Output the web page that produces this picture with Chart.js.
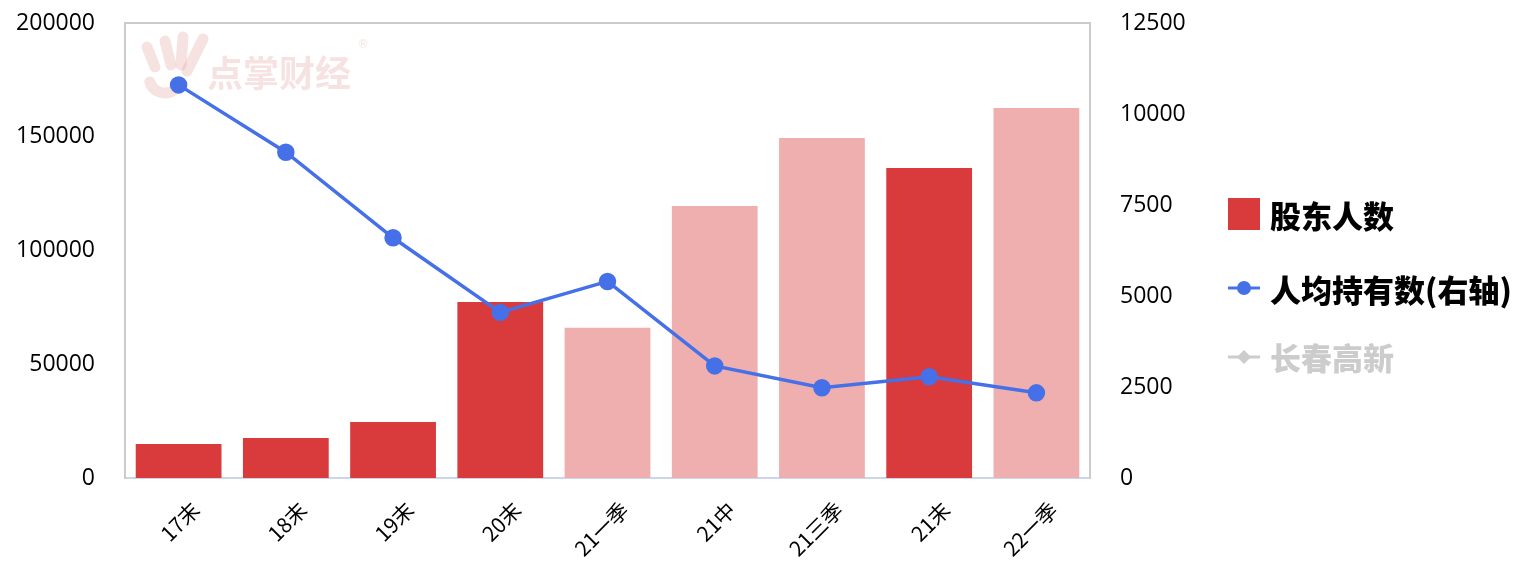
<!DOCTYPE html>
<html>
<head>
<meta charset="utf-8">
<script src="https://cdn.jsdelivr.net/npm/chart.js@4/dist/chart.umd.min.js"></script>
<style>
  html, body { margin: 0; padding: 0; background: #fff; }
  #wrap { width: 1527px; height: 570px; }
</style>
</head>
<body>
<div id="wrap"><canvas id="c" width="1527" height="570"></canvas></div>
<script>
// data
const periods = ['17末', '18末', '19末', '20末', '21一季', '21中', '21三季', '21末', '22一季'];
const holders = [15000, 17600, 24600, 77400, 66000, 119600, 149500, 136300, 162600];
const perHolder = [10800, 8950, 6600, 4550, 5400, 3080, 2480, 2780, 2340];
const yearEnd = [true, true, true, true, false, false, false, true, false];
const leftTicks = [0, 50000, 100000, 150000, 200000];
const rightTicks = [0, 2500, 5000, 7500, 10000, 12500];

const RED = '#d93a3b';
const PINK = '#efafaf';
const BLUE = '#4570e8';
const GREY = '#cccccc';
const tickFont = { family: 'Open Sans, DejaVu Sans, sans-serif', size: 23 };

// top border of plot + watermark
const frame = {
  id: 'frame',
  beforeDatasetsDraw(chart) {
    const { ctx, chartArea: a } = chart;
    ctx.save();
    ctx.fillStyle = 'rgba(226, 150, 150, 0.28)';
    ctx.font = 'bold 36px "Noto Sans CJK SC"';
    ctx.textBaseline = 'middle';
    ctx.fillText('点掌财经', a.left + 82, a.top + 50);
    ctx.font = '12px "DejaVu Sans"';
    ctx.fillText('®', a.left + 232, a.top + 22);
    ctx.lineCap = 'round';
    ctx.strokeStyle = 'rgba(226, 150, 150, 0.28)';
    ctx.lineWidth = 11;
    [[a.left + 22, a.top + 24, a.left + 30, a.top + 44],
     [a.left + 40, a.top + 18, a.left + 46, a.top + 42],
     [a.left + 58, a.top + 14, a.left + 56, a.top + 42],
     [a.left + 78, a.top + 16, a.left + 62, a.top + 48]].forEach(s => {
      ctx.beginPath(); ctx.moveTo(s[0], s[1]); ctx.lineTo(s[2], s[3]); ctx.stroke();
    });
    ctx.beginPath();
    ctx.arc(a.left + 40, a.top + 54, 16, 0.4, Math.PI * 0.9);
    ctx.stroke();
    ctx.restore();
  },
  afterDraw(chart) {
    const { ctx, chartArea: a } = chart;
    ctx.save();
    ctx.strokeStyle = '#cccccc';
    ctx.lineWidth = 2;
    ctx.beginPath();
    ctx.moveTo(a.left, a.top);
    ctx.lineTo(a.right, a.top);
    ctx.stroke();
    ctx.restore();
  }
};

// legend on the right, drawn by hand
const sideLegend = {
  id: 'sideLegend',
  afterDraw(chart) {
    const ctx = chart.ctx;
    const x = 1228;
    ctx.save();
    ctx.font = '900 31px "Noto Sans CJK SC"';
    ctx.textBaseline = 'middle';
    ctx.fillStyle = RED;
    ctx.fillRect(x, 198, 32, 32);
    ctx.fillStyle = '#000';
    ctx.fillText('股东人数', x + 42, 216);
    ctx.strokeStyle = BLUE;
    ctx.lineWidth = 3;
    ctx.beginPath(); ctx.moveTo(x, 288); ctx.lineTo(x + 32, 288); ctx.stroke();
    ctx.fillStyle = BLUE;
    ctx.beginPath(); ctx.arc(x + 16, 288, 7, 0, Math.PI * 2); ctx.fill();
    ctx.fillStyle = '#000';
    ctx.fillText('人均持有数(右轴)', x + 42, 290);
    ctx.strokeStyle = GREY;
    ctx.beginPath(); ctx.moveTo(x, 357); ctx.lineTo(x + 32, 357); ctx.stroke();
    ctx.fillStyle = GREY;
    ctx.beginPath();
    ctx.moveTo(x + 16, 350); ctx.lineTo(x + 23, 357); ctx.lineTo(x + 16, 364); ctx.lineTo(x + 9, 357);
    ctx.closePath(); ctx.fill();
    ctx.fillText('长春高新', x + 42, 358);
    ctx.restore();
  }
};

// keep tick padding from pushing the plot down
function fitVertical(width) {
  return function (s) {
    s.width = width;
    s.paddingTop = 0;
    s.paddingBottom = 0;
  };
}

new Chart(document.getElementById('c'), {
  data: {
    labels: periods,
    datasets: [
      {
        type: 'line',
        label: '人均持有数(右轴)',
        data: perHolder,
        yAxisID: 'y1',
        borderColor: BLUE,
        backgroundColor: BLUE,
        borderWidth: 3.5,
        pointRadius: 7,
        pointHoverRadius: 7,
        tension: 0,
        order: 0
      },
      {
        type: 'bar',
        label: '股东人数',
        data: holders,
        yAxisID: 'y',
        backgroundColor: yearEnd.map(e => e ? RED : PINK),
        barPercentage: 1,
        categoryPercentage: 0.8,
        order: 1
      }
    ]
  },
  plugins: [frame, sideLegend],
  options: {
    responsive: false,
    animation: false,
    layout: { padding: { top: 23, right: 337, left: 0, bottom: 0 } },
    plugins: { legend: { display: false }, tooltip: { enabled: false } },
    scales: {
      x: {
        grid: { display: false },
        border: { color: '#ccd6eb', width: 2 },
        ticks: {
          color: '#000',
          font: { family: 'Noto Sans CJK SC', size: 21 },
          minRotation: 45, maxRotation: 45,
          labelOffset: 17,
          padding: 11
        },
        afterFit(s) { s.height = 92; }
      },
      y: {
        position: 'left',
        min: 0, max: 200000,
        grid: { display: false },
        border: { color: '#cccccc', width: 2 },
        afterBuildTicks(s) { s.ticks = leftTicks.map(v => ({ value: v })); },
        ticks: { color: '#000', font: tickFont, padding: 22, callback: v => String(v) },
        afterFit: fitVertical(125)
      },
      y1: {
        position: 'right',
        min: 0, max: 12500,
        grid: { display: false },
        border: { color: '#cccccc', width: 2 },
        afterBuildTicks(s) { s.ticks = rightTicks.map(v => ({ value: v })); },
        ticks: { color: '#000', font: tickFont, padding: 22, callback: v => String(v) },
        afterFit: fitVertical(100)
      }
    }
  }
});
</script>
</body>
</html>
